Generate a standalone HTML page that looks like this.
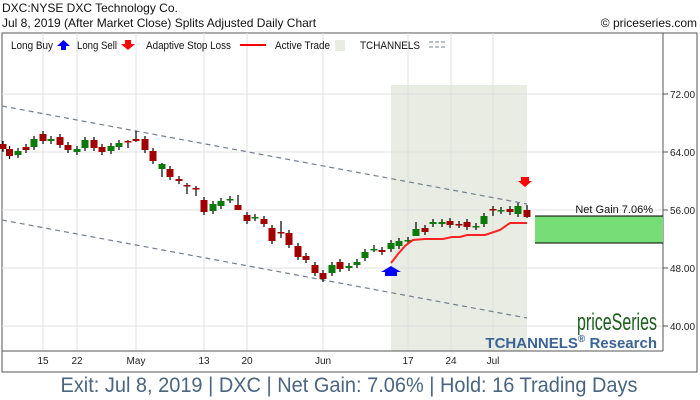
<!DOCTYPE html>
<html><head><meta charset="utf-8"><style>
body{margin:0;background:#fff;}
svg{display:block;font-family:"Liberation Sans",sans-serif;}
</style></head><body>
<svg id="c" width="700" height="400" viewBox="0 0 700 400" xmlns="http://www.w3.org/2000/svg">
<rect width="700" height="400" fill="#fff"/>
<text x="2" y="12" font-size="12" fill="#111">DXC:NYSE DXC Technology Co.</text>
<text x="2" y="27" font-size="12" fill="#111">Jul 8, 2019 (After Market Close)  Splits Adjusted Daily Chart</text>
<text x="697" y="27" font-size="12" fill="#111" text-anchor="end">© priceseries.com</text>
<rect x="2" y="33" width="695" height="339" fill="none" stroke="#555" stroke-width="1"/>
<rect x="391" y="85" width="136" height="266" fill="#e9ece3"/>
<g id="grid" stroke="#e0e0e0" stroke-width="1"></g>
<line x1="663" y1="33" x2="663" y2="351" stroke="#555"/>
<line x1="2" y1="351" x2="663" y2="351" stroke="#555"/>
<g id="yax" font-size="10" fill="#222"></g>
<g id="xax" font-size="10" fill="#222"></g>
<line x1="2" y1="106" x2="527" y2="204" stroke="#708090" stroke-width="1.2" stroke-dasharray="5,4"/>
<line x1="2" y1="220" x2="527" y2="318" stroke="#708090" stroke-width="1.2" stroke-dasharray="5,4"/>
<g id="candles"></g>
<polyline points="391,263 398,254 405,246 413,240 425,239 443,239 452,237 460,237 467,235 485,235 500,230 510,223 527,223" fill="none" stroke="#f22" stroke-width="2"/>
<polygon points="385,276 397,276 397,272 401,272 391,266 381,272 385,272" fill="#00f"/>
<polygon points="521,177 529,177 529,181 532,181 525,187 518,181 521,181" fill="#f00"/>
<rect x="535" y="216" width="128" height="27" fill="#77dd77"/>
<line x1="535" y1="216" x2="663" y2="216" stroke="#000"/>
<line x1="535" y1="243" x2="663" y2="243" stroke="#000"/>
<text x="653" y="213" font-size="11" fill="#111" text-anchor="end">Net Gain 7.06%</text>
<g font-size="11" fill="#111">
<text x="11" y="49" textLength="42" lengthAdjust="spacingAndGlyphs">Long Buy</text>
<polygon points="61,50 66,50 66,46 70,46 63.5,40 57,46 61,46" fill="#00f"/>
<text x="77" y="49" textLength="40" lengthAdjust="spacingAndGlyphs">Long Sell</text>
<polygon points="125,40 131,40 131,44 135,44 128,50 121,44 125,44" fill="#f00"/>
<text x="146" y="49" textLength="85" lengthAdjust="spacingAndGlyphs">Adaptive Stop Loss</text>
<line x1="240" y1="45" x2="266" y2="45" stroke="#f00" stroke-width="2"/>
<text x="275" y="49" textLength="55" lengthAdjust="spacingAndGlyphs">Active Trade</text>
<rect x="335" y="40" width="10" height="11" fill="#e9ece3"/>
<text x="360" y="49" textLength="60" lengthAdjust="spacingAndGlyphs">TCHANNELS</text>
<line x1="429" y1="42" x2="447" y2="42" stroke="#708090" stroke-dasharray="4,2"/>
<line x1="429" y1="47" x2="447" y2="47" stroke="#708090" stroke-dasharray="4,2"/>
</g>
<text x="657" y="330" font-size="24" fill="#1d5e1d" text-anchor="end" textLength="80" lengthAdjust="spacingAndGlyphs">priceSeries</text>
<text x="657" y="348" font-size="15" font-weight="bold" fill="#3a6496" text-anchor="end">TCHANNELS<tspan font-size="10" dy="-6">®</tspan><tspan dy="6"> Research</tspan></text>
<text x="349" y="392" font-size="21" fill="#4a6580" text-anchor="middle" textLength="577" lengthAdjust="spacingAndGlyphs">Exit: Jul 8, 2019 | DXC | Net Gain: 7.06% | Hold: 16 Trading Days</text>
</svg>
<script>
var NS="http://www.w3.org/2000/svg";
function el(p,t,a){var e=document.createElementNS(NS,t);for(var k in a)e.setAttribute(k,a[k]);document.getElementById(p).appendChild(e);return e;}
[43,77,136,204,247,323,408,451,493].forEach(function(x){el("grid","line",{x1:x,y1:33,x2:x,y2:351});});
[[94,"72.00"],[152,"64.00"],[210,"56.00"],[268,"48.00"],[326,"40.00"]].forEach(function(v){
el("grid","line",{x1:2,y1:v[0],x2:663,y2:v[0]});
el("yax","line",{x1:663,y1:v[0],x2:668,y2:v[0],stroke:"#555"});
el("yax","text",{x:670,y:v[0]+4}).textContent=v[1];});
[[43,"15"],[77,"22"],[136,"May"],[204,"13"],[247,"20"],[323,"Jun"],[408,"17"],[451,"24"],[493,"Jul"]].forEach(function(v){
el("xax","text",{x:v[0],y:364,"text-anchor":"middle"}).textContent=v[1];});
var C=[[3,"r",144,149],[9.5,"r",149,156],[18,"g",151,155],[26,"r",147,150],[34,"g",139,147],[43,"r",134,141],[51,"g",139,141],[60,"r",137,145],[68,"r",145,150],[77,"g",149,152],[85,"g",140,148],[94,"r",140,148],[102,"r",147,152],[111,"g",146,151],[119,"g",143,147],[128,"r",141,142,140,148],[136,"r",139,141,131,142],[145,"r",139,150],[153,"r",151,161],[162,"g",164,169,163,177],[170,"r",169,177],[179,"r",179,181],[187,"r",185,186,183,194],[196,"r",188,189,186,196],[204,"r",200,212],[213,"g",204,211],[221,"g",201,206],[230,"g",199,200],[238,"r",205,210,195,210],[247,"r",215,221],[255,"g",217,218],[264,"r",219,224],[272,"r",228,241],[281,"r",232,233,221,238],[289,"r",233,245],[298,"r",246,257],[306,"r",256,260],[315,"r",265,273],[323,"r",273,279],[332,"g",265,273],[340,"r",262,269],[349,"g",266,268],[357,"g",262,265],[365,"g",252,258],[374,"g",249,250,245,252],[382,"r",250,252],[391,"g",243,249],[399,"g",241,246],[408,"g",240,241],[416,"g",229,236,222,236],[425,"r",228,232],[433,"g",222,224],[442,"g",222,224],[450,"r",221,225],[459,"r",224,225],[467,"r",222,227],[476,"g",226,227],[484,"g",216,224],[493,"r",209,210,206,216],[501,"g",210,211],[510,"r",209,212],[518,"g",206,214],[527,"r",210,217,205,218]];
C.forEach(function(c){var wt=c[4]||c[2]-3,wb=c[5]||c[3]+3;
el("candles","line",{x1:c[0],y1:wt,x2:c[0],y2:wb,stroke:"#000","stroke-width":1.2});
el("candles","rect",{x:c[0]-3.5,y:c[2],width:7,height:Math.max(1.5,c[3]-c[2]),fill:c[1]=="g"?"#0a7a0a":"#a00000"});});
</script>
</body></html>
